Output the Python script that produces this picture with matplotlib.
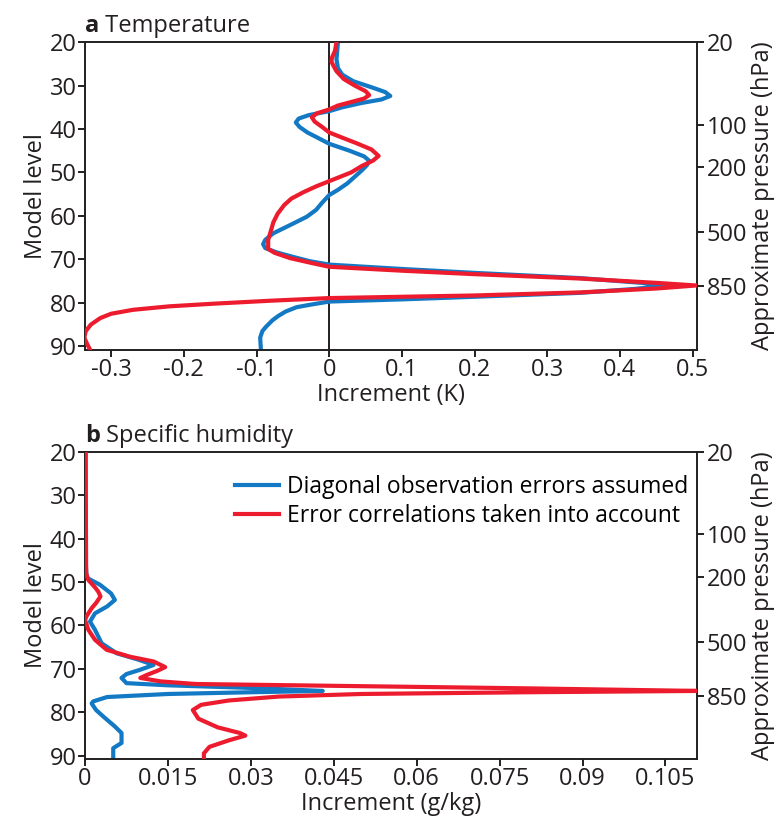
import matplotlib
matplotlib.use("Agg")
import matplotlib.pyplot as plt

plt.rcParams['font.family'] = ['Open Sans', 'DejaVu Sans']

BLUE = '#1379c4'
RED = '#ec1c2e'
INK = '#231f20'

# ---- Temperature increments (K) vs model level ----
t_diag_x = [0.012, 0.011, 0.010, 0.012, 0.018, 0.033, 0.060, 0.077, 0.084, 0.072, 0.045, 0.018,
            0.0, -0.028, -0.042, -0.046, -0.041, -0.030, -0.016, 0.0, 0.028, 0.048, 0.055, 0.052,
            0.045, 0.035, 0.025, 0.012, 0.0, -0.010, -0.018, -0.031, -0.055, -0.077, -0.088,
            -0.091, -0.088, -0.072, -0.048, -0.027, 0.0, 0.10, 0.20, 0.345, 0.43, 0.464, 0.42,
            0.345, 0.20, 0.10, 0.0, -0.025, -0.045, -0.060, -0.070, -0.078, -0.087, -0.092,
            -0.095, -0.094]
t_diag_lev = [20, 22, 24, 26, 27.5, 29, 30.5, 31.5, 32.4, 33.2, 34.0, 35.0,
              35.9, 36.8, 37.6, 38.5, 39.5, 40.8, 42.0, 43.4, 45.0, 46.3, 47.3, 48.3,
              49.5, 51.0, 52.5, 54.0, 55.2, 57.0, 58.6, 60.2, 62.2, 64.0, 65.5,
              66.5, 67.4, 68.4, 69.5, 70.4, 71.2, 72.2, 73.1, 74.3, 75.4, 76.0, 76.8,
              77.7, 78.6, 79.2, 79.7, 80.4, 81.0, 82.0, 83.0, 84.0, 85.5, 86.5,
              88.0, 90.8]

t_corr_x = [0.010, 0.008, 0.004, 0.003, 0.006, 0.010, 0.020, 0.035, 0.050, 0.055, 0.048, 0.030,
            0.012, 0.0, -0.017, -0.024, -0.020, -0.010, 0.0, 0.018, 0.038, 0.058, 0.068, 0.060,
            0.045, 0.030, 0.012, 0.0, -0.018, -0.035, -0.052, -0.062, -0.071, -0.077, -0.079,
            -0.084, -0.084, -0.075, -0.054, -0.025, 0.0, 0.10, 0.20, 0.345, 0.45, 0.505,
            0.45, 0.345, 0.20, 0.10, 0.0, -0.08, -0.16, -0.22, -0.27, -0.30, -0.315, -0.328,
            -0.335, -0.337, -0.333, -0.329]
t_corr_lev = [20, 22, 23.5, 24.5, 25.5, 26.7, 28.5, 30.0, 31.3, 32.2, 33.0, 33.8,
              34.6, 35.5, 36.4, 37.3, 38.3, 39.5, 40.8, 42.0, 43.3, 44.7, 46.2, 47.3,
              48.5, 50.0, 51.2, 52.0, 53.2, 54.5, 56.0, 57.5, 59.5, 61.5, 62.7,
              65.5, 67.6, 68.5, 69.7, 70.8, 71.7, 72.6, 73.4, 74.4, 75.4, 76.0,
              76.7, 77.6, 78.3, 78.6, 78.9, 79.5, 80.2, 80.8, 81.6, 82.5, 83.5, 85.0,
              86.5, 88.0, 89.5, 90.8]

# ---- Specific humidity increments (g/kg) vs model level ----
q_diag_x = [0.0001, 0.0001, 0.0003, 0.0027, 0.0047, 0.0054, 0.0040, 0.0018, 0.0009, 0.0018,
            0.0030, 0.0057, 0.0097, 0.0124, 0.0100, 0.0075, 0.0066, 0.0075, 0.015, 0.030,
            0.043, 0.030, 0.015, 0.004, 0.0015, 0.0012, 0.0020, 0.0033, 0.0054, 0.0066,
            0.0066, 0.0051, 0.0051]
q_diag_lev = [20, 45, 49.0, 50.6, 52.6, 54.1, 55.6, 57.2, 59.1, 61.0,
              64.1, 66.4, 67.9, 69.1, 70.2, 71.2, 72.1, 73.3, 73.8, 74.4,
              75.1, 75.4, 75.8, 76.5, 77.5, 78.0, 79.5, 81.0, 83.3, 84.8,
              87.1, 88.3, 90.8]

q_corr_x = [0.0001, 0.0002, 0.0006, 0.0018, 0.0024, 0.0028, 0.0020, 0.0012, 0.0003, 0.0,
            0.0006, 0.0018, 0.0039, 0.0081, 0.0124, 0.0145, 0.0130, 0.0112, 0.0100, 0.0137,
            0.020, 0.050, 0.080, 0.111, 0.080, 0.050, 0.035, 0.026, 0.021, 0.0195, 0.0205,
            0.024, 0.028, 0.029, 0.026, 0.0225, 0.0215, 0.0215]
q_corr_lev = [20, 48.0, 49.5, 51.2, 52.2, 53.3, 54.8, 56.0, 57.8, 58.7,
              61.0, 63.3, 65.6, 67.2, 68.3, 69.6, 70.5, 71.4, 72.1, 72.9,
              73.5, 74.0, 74.5, 75.1, 75.4, 75.8, 76.4, 77.3, 78.3, 79.5, 81.5,
              83.5, 84.8, 85.4, 86.5, 88.0, 89.5, 90.8]

# model levels and approximate pressure (hPa) for the right-hand axis
level_ticks = [20, 30, 40, 50, 60, 70, 80, 90]
pressure_levels = [20, 39, 48.7, 63.8, 76.2]
pressure_labels = ['20', '100', '200', '500', '850']

temp_xticks = [-0.3, -0.2, -0.1, 0, 0.1, 0.2, 0.3, 0.4, 0.5]
temp_xlabels = ['-0.3', '-0.2', '-0.1', '0', '0.1', '0.2', '0.3', '0.4', '0.5']
q_xticks = [0, 0.015, 0.03, 0.045, 0.06, 0.075, 0.09, 0.105]
q_xlabels = ['0', '0.015', '0.03', '0.045', '0.06', '0.075', '0.09', '0.105']

FS = 17

fig = plt.figure(figsize=(7.83, 8.25), dpi=100)
ax1 = fig.add_axes([0.1086, 0.576, 0.7815, 0.373])
ax2 = fig.add_axes([0.1086, 0.080, 0.7815, 0.372])


def style(ax, xlim, xticks, xlabels, xlabel):
    ax.set_ylim(90.8, 20)
    ax.set_xlim(*xlim)
    ax.set_yticks(level_ticks)
    ax.set_xticks(xticks)
    ax.set_xticklabels(xlabels)
    ax.set_ylabel('Model level', fontsize=FS, labelpad=1, color=INK)
    ax.set_xlabel(xlabel, fontsize=FS, labelpad=0.5, color=INK)
    ax.tick_params(direction='out', length=5, width=1.4, labelsize=FS, pad=1, colors=INK)
    for s in ax.spines.values():
        s.set_linewidth(1.4)
        s.set_color(INK)
    rax = ax.twinx()
    rax.set_ylim(90.8, 20)
    rax.set_yticks(pressure_levels)
    rax.set_yticklabels(pressure_labels)
    rax.tick_params(direction='out', length=5, width=1.4, labelsize=FS, pad=2, colors=INK)
    rax.set_ylabel('Approximate pressure (hPa)', fontsize=FS, labelpad=3, color=INK)
    for s in rax.spines.values():
        s.set_visible(False)
    return rax


def panel_title(ax, letter, title):
    t = ax.text(0.0, 1.012, letter, transform=ax.transAxes, fontsize=FS, fontweight='bold',
                va='bottom', ha='left', color=INK)
    ax.annotate(' ' + title, xy=(1, 0), xycoords=t, va='bottom', ha='left', fontsize=FS,
                color=INK)


# ---- a: temperature ----
ax1.axvline(0, color=INK, lw=1.4, zorder=1)
ax1.plot(t_diag_x, t_diag_lev, color=BLUE, lw=3, zorder=2, solid_joinstyle='round')
ax1.plot(t_corr_x, t_corr_lev, color=RED, lw=3, zorder=3, solid_joinstyle='round')
style(ax1, (-0.336, 0.506), temp_xticks, temp_xlabels, 'Increment (K)')
panel_title(ax1, 'a', 'Temperature')

# ---- b: specific humidity ----
ax2.plot(q_diag_x, q_diag_lev, color=BLUE, lw=3, zorder=2, solid_joinstyle='round',
         label='Diagonal observation errors assumed')
ax2.plot(q_corr_x, q_corr_lev, color=RED, lw=3, zorder=3, solid_joinstyle='round',
         label='Error correlations taken into account')
style(ax2, (0, 0.1107), q_xticks, q_xlabels, 'Increment (g/kg)')
panel_title(ax2, 'b', 'Specific humidity')
ax2.legend(loc='upper right', frameon=False, fontsize=FS - 0.5, handlelength=1.9,
           handletextpad=0.35, labelspacing=0.2, borderaxespad=0.0,
           bbox_to_anchor=(1.0, 0.955))

fig.savefig('out.png', dpi=100)
